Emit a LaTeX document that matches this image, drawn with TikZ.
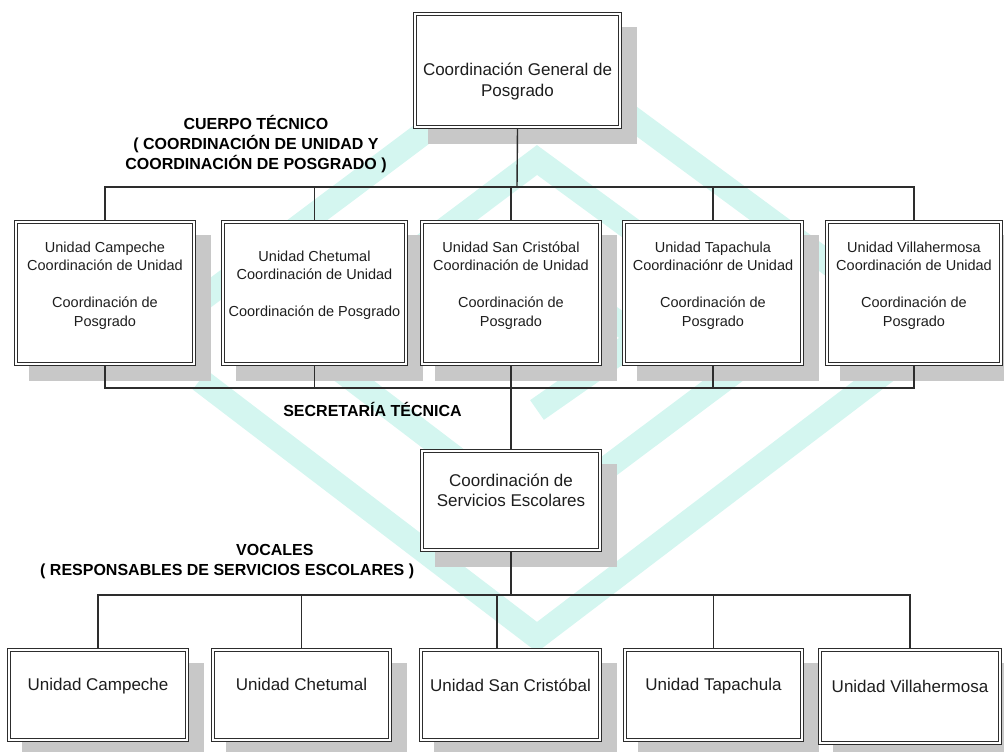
\documentclass[tikz,border=0pt]{standalone}
\usepackage{fontspec}
\setmainfont{Liberation Sans}
\definecolor{linec}{RGB}{45,45,45}
\definecolor{shadowc}{RGB}{200,200,200}
\definecolor{wmc}{RGB}{212,246,240}
\definecolor{textc}{RGB}{30,30,30}
\pgfdeclarelayer{wm}
\pgfdeclarelayer{shad}
\pgfdeclarelayer{conn}
\pgfsetlayers{wm,shad,conn,main}
\begin{document}
\begin{tikzpicture}[x=1pt,y=-1pt,
  box/.style={draw=linec, line width=0.9pt, double=white, double distance=2.2pt, fill=white, inner sep=0pt, outer sep=2pt, align=center, text=textc},
  conn/.style={draw=linec, line width=1.4pt},
  sm/.style={font=\fontsize{14.5}{18.5}\selectfont},
  bg/.style={font=\fontsize{17}{20.5}\selectfont},
  lab/.style={font=\fontsize{16}{20}\selectfont\bfseries, text=black, align=center, inner sep=0pt},
  shd/.style={fill=shadowc},
  wmband/.style={draw=wmc, line width=24pt, line join=miter}
]
\useasboundingbox (0,0) rectangle (1004,752);

% boxes
\node[box,bg,minimum width=205pt,minimum height=113pt] (top) at (517.5,70.5) {\strut\\Coordinación General de\\Posgrado};

\node[box,sm,minimum width=178pt,minimum height=142pt] (u1) at (105,293) {Unidad Campeche\\Coordinación de Unidad\\~\\Coordinación de\\Posgrado\\~};
\node[box,sm,minimum width=183pt,minimum height=142pt] (u2) at (314.5,293) {Unidad Chetumal\\Coordinación de Unidad\\~\\Coordinación de Posgrado\\~};
\node[box,sm,minimum width=178pt,minimum height=142pt] (u3) at (511,293) {Unidad San Cristóbal\\Coordinación de Unidad\\~\\Coordinación de\\Posgrado\\~};
\node[box,sm,minimum width=178pt,minimum height=142pt] (u4) at (713,293) {Unidad Tapachula\\Coordinaciónr de Unidad\\~\\Coordinación de\\Posgrado\\~};
\node[box,sm,minimum width=174pt,minimum height=142pt] (u5) at (914,293) {Unidad Villahermosa\\Coordinación de Unidad\\~\\Coordinación de\\Posgrado\\~};

\node[box,bg,minimum width=178pt,minimum height=99pt] (serv) at (511,500.5) {Coordinación de\\Servicios Escolares\\~};

\node[box,bg,minimum width=178pt,minimum height=90pt] (b1) at (98,695) {Unidad Campeche\\~};
\node[box,bg,minimum width=177pt,minimum height=90pt] (b2) at (301.5,695) {Unidad Chetumal\\~};
\node[box,bg,minimum width=179pt,minimum height=90pt] (b3) at (510.5,695) {Unidad San Cristóbal\\~};
\node[box,bg,minimum width=177pt,minimum height=90pt] (b4) at (713.5,695) {Unidad Tapachula\\~};
\node[box,bg,minimum width=180pt,minimum height=93pt] (b5) at (910,696.5) {Unidad Villahermosa\\~};

% labels
\node[lab] (cuerpo) at (256,144) {CUERPO TÉCNICO\\( COORDINACIÓN DE UNIDAD Y\\COORDINACIÓN DE POSGRADO )};
\node[lab] (secre) at (372.5,409) {SECRETARÍA TÉCNICA};
\node[lab, align=left, anchor=west] (vocal) at (40,561.5) {\hspace*{196pt}VOCALES\\( RESPONSABLES DE SERVICIOS ESCOLARES )};

% bus points
\coordinate (bus1) at (517,187);
\coordinate (bus2) at (511,388);
\coordinate (bus3) at (511,595);

\begin{pgfonlayer}{conn}
  \draw[conn] (top.south) -- (bus1);
  \foreach \n in {u1,u2,u3,u4,u5} \draw[conn] (\n.north) |- (bus1);
  \foreach \n in {u1,u2,u4,u5} \draw[conn] (\n.south) |- (bus2);
  \draw[conn] (u3.south) -- (serv.north);
  \draw[conn] (serv.south) -- (bus3);
  \foreach \n in {b1,b2,b4,b5} \draw[conn] (\n.north) |- (bus3);
  \draw[conn] ([xshift=-13.5pt]b3.north) |- (bus3);
\end{pgfonlayer}

\begin{pgfonlayer}{shad}
  \foreach \n in {top,u1,u2,u3,u4,u5,serv,b1,b2,b3,b4,b5}
    \fill[shd] ([shift={(15pt,-15pt)}]\n.south west) rectangle ([shift={(15pt,-15pt)}]\n.north east);
\end{pgfonlayer}

\begin{pgfonlayer}{wm}
  \draw[wmband] (150,338) -- (537,48) -- (930,338) -- (537,637) -- (200,380);
  \draw[wmband] (300,338) -- (537,160) -- (780,338) -- (537,520) -- (340,370);
  \draw[wmband] (440,338) -- (537,265) -- (640,338) -- (537,410);
\end{pgfonlayer}
\end{tikzpicture}
\end{document}
